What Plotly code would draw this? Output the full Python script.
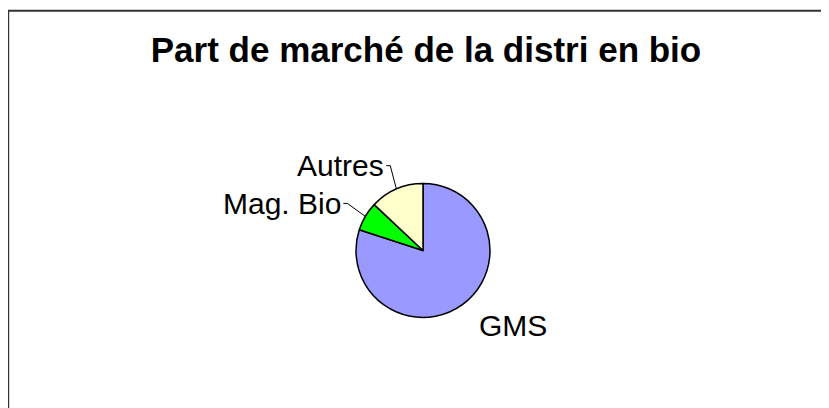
import math
import plotly.graph_objects as go

# ---- data ----
labels = ["GMS", "Mag. Bio", "Autres"]
values = [80, 7, 13]
colors = ["#9999FF", "#00FF00", "#FFFFCC"]
title_text = "Part de marché de la distri en bio"

W, H = 829, 408
OX, OY = 8, 8                    # page body margin offset
CX, CY, R = 423.0 - OX, 250.5 - OY, 67.0   # pie centre / radius in figure px
FONT = "Liberation Sans, Arial, sans-serif"


def px(x):
    return x / W


def py(y):
    return 1 - y / H


fig = go.Figure(go.Pie(
    labels=labels, values=values, sort=False, direction="clockwise", rotation=0,
    marker=dict(colors=colors, line=dict(color="#000000", width=1.5)),
    textinfo="none", hoverinfo="label+percent", showlegend=False,
    domain=dict(x=[px(CX - R), px(CX + R)], y=[py(CY + R), py(CY - R)]),
))

# labels with leader lines, computed from slice mid-angles
total = sum(values)
cum = 0.0
annotations = []
shapes = []
for lab, v in zip(labels, values):
    mid = (cum + v / 2) / total * 2 * math.pi
    cum += v
    sx, sy = math.sin(mid), -math.cos(mid)
    ex, ey = CX + R * sx, CY + R * sy
    lx, ly = CX + 1.38 * R * sx, CY + 1.38 * R * sy
    left_side = sx < 0
    annotations.append(dict(
        x=px(lx), y=py(ly), xref="paper", yref="paper",
        text=lab, showarrow=False, font=dict(family=FONT, size=30, color="#000"),
        xanchor="right" if left_side else "left", yanchor="middle",
    ))
    if left_side:
        shapes.append(dict(type="path", xref="paper", yref="paper",
                           path=f"M {px(lx)} {py(ly)} L {px(lx+4)} {py(ly)} L {px(ex)} {py(ey)}",
                           line=dict(color="#000", width=1)))

# chart border (left/top visible)
shapes.append(dict(type="rect", xref="paper", yref="paper",
                   x0=px(8.2 - OX), x1=1.1, y0=-0.1, y1=py(10.8 - OY),
                   line=dict(color="#333333", width=2), fillcolor="rgba(0,0,0,0)", layer="above"))

fig.update_layout(
    width=W, height=H,
    margin=dict(l=0, r=0, t=0, b=0),
    paper_bgcolor="white", plot_bgcolor="white",
    title=dict(text=f"<b>{title_text}</b>", x=px(426 - OX), xanchor="center",
               y=py(49.5 - OY), yanchor="middle", yref="paper",
               font=dict(family=FONT, size=35, color="#000")),
    annotations=annotations, shapes=shapes,
)

fig.write_html("out.html")
